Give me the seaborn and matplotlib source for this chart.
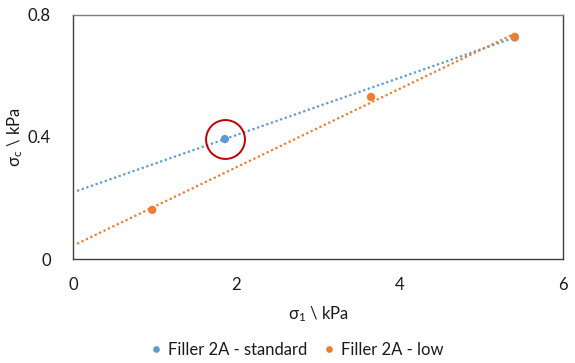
import numpy as np
import pandas as pd
import matplotlib
matplotlib.use("Agg")
import matplotlib.pyplot as plt
import seaborn as sns

# Data
std_x = [1.86, 5.41]
std_y = [0.393, 0.726]
low_x = [0.97, 3.65, 5.41]
low_y = [0.161, 0.531, 0.728]
series_names = ["Filler 2A - standard", "Filler 2A - low"]
x_ticks = [0, 2, 4, 6]
y_ticks = [0, 0.4, 0.8]
y_tick_labels = ["0", "0.4", "0.8"]
trend_start = 0.05

sns.set_theme(style="white")
plt.rcParams['font.family'] = ['Lato', 'DejaVu Sans']
plt.rcParams['mathtext.default'] = 'regular'

blue = "#5B9BD5"
orange = "#ED7D31"
txt = "#1a1a1a"
fs = 12

fig = plt.figure(figsize=(5.75, 3.63), dpi=100)
ax = fig.add_axes([0.127, 0.2865, 0.852, 0.6725])

df = pd.concat([
    pd.DataFrame({"x": std_x, "y": std_y, "s": series_names[0]}),
    pd.DataFrame({"x": low_x, "y": low_y, "s": series_names[1]}),
])

# trendlines
for xs, ys, c in [(std_x, std_y, blue), (low_x, low_y, orange)]:
    m, b = np.polyfit(xs, ys, 1)
    tx = np.array([trend_start, max(xs)])
    ax.plot(tx, m * tx + b, linestyle=(0, (1, 1.2)), color=c, lw=1.6, zorder=2)

sns.scatterplot(data=df, x="x", y="y", hue="s", palette=[blue, orange],
                s=36, edgecolor="none", ax=ax, zorder=3, legend=True)

# highlight circle around the standard point
ax.plot([std_x[0]], [std_y[0]], marker="o", markersize=28, mfc="none",
        mec="#C00000", mew=1.4, zorder=4)

ax.set_xlim(0, 6)
ax.set_ylim(0, 0.8)
ax.set_xticks(x_ticks)
ax.set_yticks(y_ticks)
ax.set_yticklabels(y_tick_labels)
ax.tick_params(axis='both', length=0, labelsize=fs, colors=txt)
ax.tick_params(axis='x', pad=13)
ax.tick_params(axis='y', pad=16)
for s in ax.spines.values():
    s.set_color("#404040")
    s.set_linewidth(1.0)
ax.spines['top'].set_color("#7f7f7f")

ax.set_xlabel(r"σ$_1$ \ kPa", fontsize=fs, labelpad=8, color=txt)
ax.set_ylabel(r"σ$_c$ \ kPa", fontsize=fs, labelpad=2, color=txt)

handles, labels = ax.get_legend_handles_labels()
ax.legend(handles, labels, loc="center", bbox_to_anchor=(0.517, 0.036),
          bbox_transform=fig.transFigure, ncol=2,
          frameon=False, fontsize=fs, handlelength=0.6, handletextpad=0.4,
          columnspacing=1.0, markerscale=0.8, labelcolor=txt)

fig.savefig("out.png", dpi=100)
